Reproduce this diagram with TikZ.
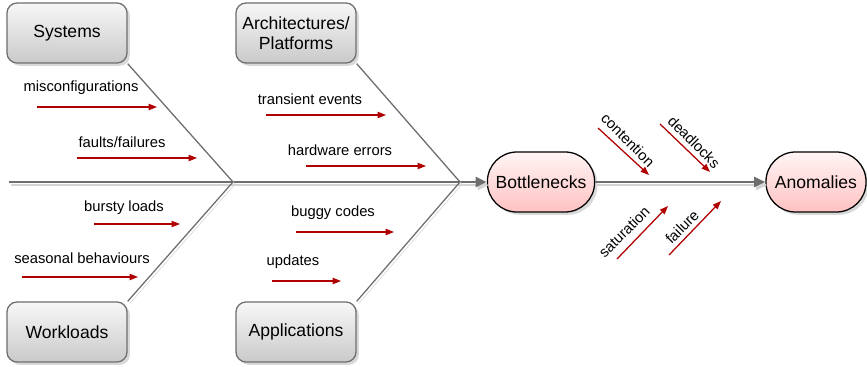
\documentclass[tikz,border=0pt]{standalone}
\usepackage{fontspec}
\setmainfont{Liberation Sans}
\usetikzlibrary{arrows.meta,shadows}

\definecolor{bonegray}{HTML}{6E6E6E}
\definecolor{shadegray}{HTML}{D4D4D4}
\definecolor{causered}{HTML}{B00000}

\tikzset{
  cause/.style={draw=bonegray, line width=0.9pt, rounded corners=0.25cm,
    top color=gray!6, bottom color=gray!42, minimum width=3cm, minimum height=1.5cm,
    align=center, font=\fontsize{12.5}{14}\selectfont,
    drop shadow={shadow xshift=2pt, shadow yshift=-2pt, fill=black!25, opacity=0.6}},
  effect/.style={draw=black, line width=0.9pt, rounded corners=0.74cm,
    top color=red!4, bottom color=red!24, minimum height=1.5cm,
    font=\fontsize{12.5}{14}\selectfont,
    drop shadow={shadow xshift=2pt, shadow yshift=-2pt, fill=black!25, opacity=0.6}},
  spine/.style={draw=bonegray, line width=2.1pt, -{Triangle[length=8pt,width=7pt]},
    preaction={draw=shadegray, line width=1.6pt, transform canvas={shift={(1.5pt,-2.2pt)}}}},
  bone/.style={draw=bonegray, line width=0.9pt,
    preaction={draw=shadegray, transform canvas={shift={(1.5pt,-1.5pt)}}}},
  sub/.style={draw=causered, line width=0.9pt, -{Triangle[length=6pt,width=4.5pt]}},
  lbl/.style={font=\fontsize{10.5}{12}\selectfont, inner sep=1pt}
}

\begin{document}
\begin{tikzpicture}[x=0.025cm,y=-0.025cm]
            \useasboundingbox (0,0) rectangle (867,367);
            % categories
            \node[cause] at (67,33) (sys) {Systems};
            \node[cause] at (296,33) (arch) {Architectures/\\Platforms};
            \node[cause] at (67,332) (wl) {Workloads};
            \node[cause] at (296,332) (app) {Applications};
            \node[effect, minimum width=2.68cm] at (541,182) (bn) {Bottlenecks};
            \node[effect, minimum width=2.5cm] at (816,182) (an) {Anomalies};
            % spine and bones
            \coordinate (tail) at (9,182);
            \coordinate (j1) at (233,182);
            \coordinate (j2) at (460,182);
            \draw[spine] (tail) to (bn.west);
            \draw[spine] (bn.east) to (an.west);
            \draw[bone] (sys.south east) to (j1);
            \draw[bone] (wl.north east) to (j1);
            \draw[bone] (arch.south east) to (j2);
            \draw[bone] (app.north east) to (j2);
            % systems
            \node[lbl] at (81,88) (misc) {misconfigurations};
            \coordinate (misc1) at (37,107);
            \coordinate (misc2) at (157,107);
            \draw[sub] (misc1) to (misc2);
            \node[lbl] at (122,142) (fault) {faults/failures};
            \coordinate (fault1) at (77,158);
            \coordinate (fault2) at (197,158);
            \draw[sub] (fault1) to (fault2);
            % architectures
            \node[lbl] at (310,99) (trans) {transient events};
            \coordinate (trans1) at (266,115);
            \coordinate (trans2) at (386,115);
            \draw[sub] (trans1) to (trans2);
            \node[lbl] at (340,150) (hw) {hardware errors};
            \coordinate (hw1) at (306,166);
            \coordinate (hw2) at (426,166);
            \draw[sub] (hw1) to (hw2);
            % workloads
            \node[lbl] at (124,208) (burst) {bursty loads};
            \coordinate (burst1) at (94,224);
            \coordinate (burst2) at (180,224);
            \draw[sub] (burst1) to (burst2);
            \node[lbl] at (82,258) (season) {seasonal behaviours};
            \coordinate (season1) at (22,277);
            \coordinate (season2) at (138,277);
            \draw[sub] (season1) to (season2);
            % applications
            \node[lbl] at (333,213) (bug) {buggy codes};
            \coordinate (bug1) at (296,232);
            \coordinate (bug2) at (394,232);
            \draw[sub] (bug1) to (bug2);
            \node[lbl] at (293,262) (upd) {updates};
            \coordinate (upd1) at (272,281);
            \coordinate (upd2) at (341,281);
            \draw[sub] (upd1) to (upd2);
            % bottlenecks to anomalies
            \node[lbl, rotate=-45] at (628,140) (cont) {contention};
            \coordinate (cont1) at (598,128);
            \coordinate (cont2) at (649,175);
            \draw[sub] (cont1) to (cont2);
            \node[lbl, rotate=-45] at (694,142) (dead) {deadlocks};
            \coordinate (dead1) at (660,124);
            \coordinate (dead2) at (710,172);
            \draw[sub] (dead1) to (dead2);
            \node[lbl, rotate=45] at (624,232) (sat) {saturation};
            \coordinate (sat1) at (617,259);
            \coordinate (sat2) at (668,206);
            \draw[sub] (sat1) to (sat2);
            \node[lbl, rotate=45] at (682,227) (fail) {failure};
            \coordinate (fail1) at (669,255);
            \coordinate (fail2) at (721,201);
            \draw[sub] (fail1) to (fail2);
        \end{tikzpicture}
\end{document}
